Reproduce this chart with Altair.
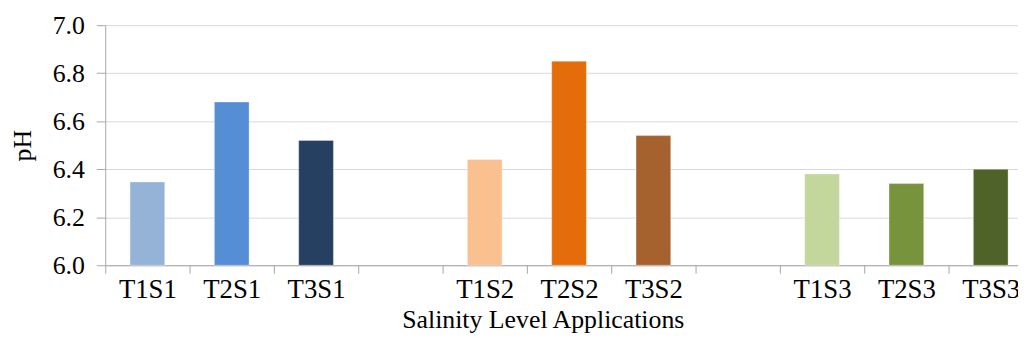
import altair as alt
import pandas as pd

categories = ["T1S1", "T2S1", "T3S1", "gap1", "T1S2", "T2S2", "T3S2", "gap2", "T1S3", "T2S3", "T3S3"]
bar_labels = ["T1S1", "T2S1", "T3S1", "T1S2", "T2S2", "T3S2", "T1S3", "T2S3", "T3S3"]
ph_values = [6.347, 6.68, 6.52, 6.44, 6.85, 6.54, 6.38, 6.34, 6.40]
bar_colors = ["#95b3d7", "#558ed5", "#254061", "#fac090", "#e46c0a", "#a5622f", "#c3d69b", "#77933c", "#4f6228"]

df = pd.DataFrame({"cat": bar_labels, "ph": ph_values})

FONT = "Liberation Serif"

bars = alt.Chart(df).mark_bar(width=35, stroke="white", strokeOpacity=0.35, strokeWidth=1).encode(
    x=alt.X(
        "cat:N",
        sort=categories,
        scale=alt.Scale(domain=categories, paddingInner=0, paddingOuter=0, range=[0, 935]),
        axis=alt.Axis(
            title="Salinity Level Applications",
            labelExpr="indexof(datum.label, 'gap') >= 0 ? '' : datum.label",
            labelAngle=0,
            labelFontSize=27,
            titleFontSize=26,
            tickBand="extent",
            tickSize=8,
            labelPadding=4,
            titleX=441,
            titleY=63,
            titleAlign="center",
            titleBaseline="alphabetic",
            grid=False,
        ),
    ),
    y=alt.Y(
        "ph:Q",
        scale=alt.Scale(domain=[6.0, 7.0], zero=False, nice=False),
        axis=alt.Axis(
            title="pH",
            values=[6.0, 6.2, 6.4, 6.6, 6.8, 7.0],
            format=".1f",
            labelFontSize=26,
            titleFontSize=26,
            tickSize=9,
            labelPadding=12,
            titlePadding=17,
            grid=True,
        ),
    ),
    y2=alt.datum(6.0),
    color=alt.Color("cat:N", scale=alt.Scale(domain=bar_labels, range=bar_colors), legend=None),
)

chart = bars.properties(
    width=920,
    height=242,
    autosize=alt.AutoSizeParams(type="none"),
    padding={"left": 98, "top": 16, "right": 0, "bottom": 68},
).configure_view(stroke=None).configure_axis(
    labelFont=FONT,
    titleFont=FONT,
    labelColor="#000000",
    titleColor="#000000",
    titleFontWeight="normal",
    domainColor="#a6a6a6",
    tickColor="#a6a6a6",
    gridColor="#d9d9d9",
    domainWidth=1,
    tickWidth=1,
    gridWidth=1,
)

chart.save("out.html", embed_options={"renderer": "svg", "actions": False})
